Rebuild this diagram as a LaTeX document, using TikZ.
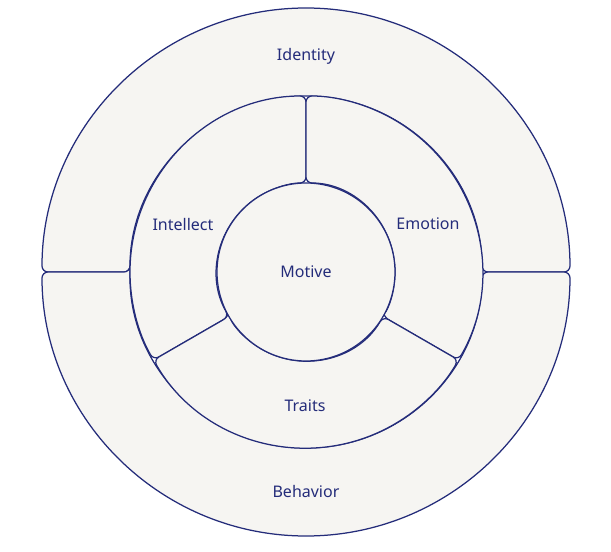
\documentclass[tikz,border=0pt]{standalone}
\usepackage{fontspec}
\setmainfont{Noto Sans}
\definecolor{navy}{HTML}{242C7A}
\definecolor{paper}{HTML}{F6F5F2}
\newcommand{\ringsector}[4]{%
  \filldraw[seg] (#1:#3) -- (#1:#4) arc[start angle=#1, end angle=#2, radius=#4]
    -- (#2:#3) arc[start angle=#2, end angle=#1, radius=#3] -- cycle;}
\begin{document}
\begin{tikzpicture}[
  seg/.style={fill=paper, draw=navy, line width=1.25pt, rounded corners=6pt, line join=round},
  lbl/.style={text=navy, font=\fontsize{16}{19}\selectfont, inner sep=0pt}
]
\useasboundingbox (-306pt,-280pt) rectangle (305pt,272pt);
% outer ring
\ringsector{0}{180}{176pt}{264pt}
\ringsector{180}{360}{176pt}{264pt}
% middle ring
\ringsector{90}{210}{89pt}{176pt}
\ringsector{-30}{90}{89pt}{176pt}
\ringsector{210}{330}{89pt}{176pt}
% inner circle
\filldraw[fill=paper, draw=navy, line width=1.25pt] (0,0) circle[radius=89pt];
% labels
\node[lbl] (identity) at (0pt,216pt) {Identity};
\node[lbl] (behavior) at (0pt,-219pt) {Behavior};
\node[lbl] (intellect) at (-123pt,48pt) {Intellect};
\node[lbl] (emotion) at (122pt,48pt) {Emotion};
\node[lbl] (traits) at (-1pt,-134pt) {Traits};
\node[lbl] (motive) at (0pt,0pt) {Motive};
\end{tikzpicture}
\end{document}
